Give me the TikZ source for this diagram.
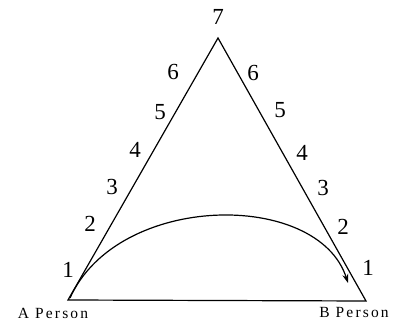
\documentclass[tikz,border=0pt]{standalone}
\usepackage{fontspec}
\setmainfont{Liberation Serif}
\usetikzlibrary{arrows.meta}
\begin{document}
\begin{tikzpicture}[x=1pt,y=-1pt,
  edge/.style={line width=1.2pt},
  num/.style={font=\fontsize{23}{23}\selectfont, inner sep=0pt},
  who/.style={font=\fontsize{15.5}{15.5}\selectfont\addfontfeature{LetterSpace=14}, inner sep=0pt}]
\useasboundingbox (0,0) rectangle (397,323);
\coordinate (A) at (68,300);
\coordinate (B) at (366,301);
\coordinate (C) at (218,38);
\draw[edge, line join=miter] (A) -- (C) -- (B) -- cycle;
% left numbers
\node[num] (l1) at (68,270) {1};
\node[num] (l2) at (90,224) {2};
\node[num] (l3) at (112,187) {3};
\node[num] (l4) at (135,150) {4};
\node[num] (l5) at (160,112) {5};
\node[num] (l6) at (173,72) {6};
\node[num] (top) at (218,17) {7};
% right numbers
\node[num] (r6) at (253,73) {6};
\node[num] (r5) at (280,110) {5};
\node[num] (r4) at (302,153) {4};
\node[num] (r3) at (323,188) {3};
\node[num] (r2) at (343,227) {2};
\node[num] (r1) at (368,268) {1};
% persons
\node[who] (pa) at (53,313) {A Person};
\node[who] (pb) at (354,313) {B Person};
% arc
\coordinate (s) at (70,298);
\coordinate (e) at (348,283);
\draw[edge, -{Stealth[length=9pt,width=6pt]}] (s) .. controls (118,192) and (318,190) .. (e);
\end{tikzpicture}
\end{document}
